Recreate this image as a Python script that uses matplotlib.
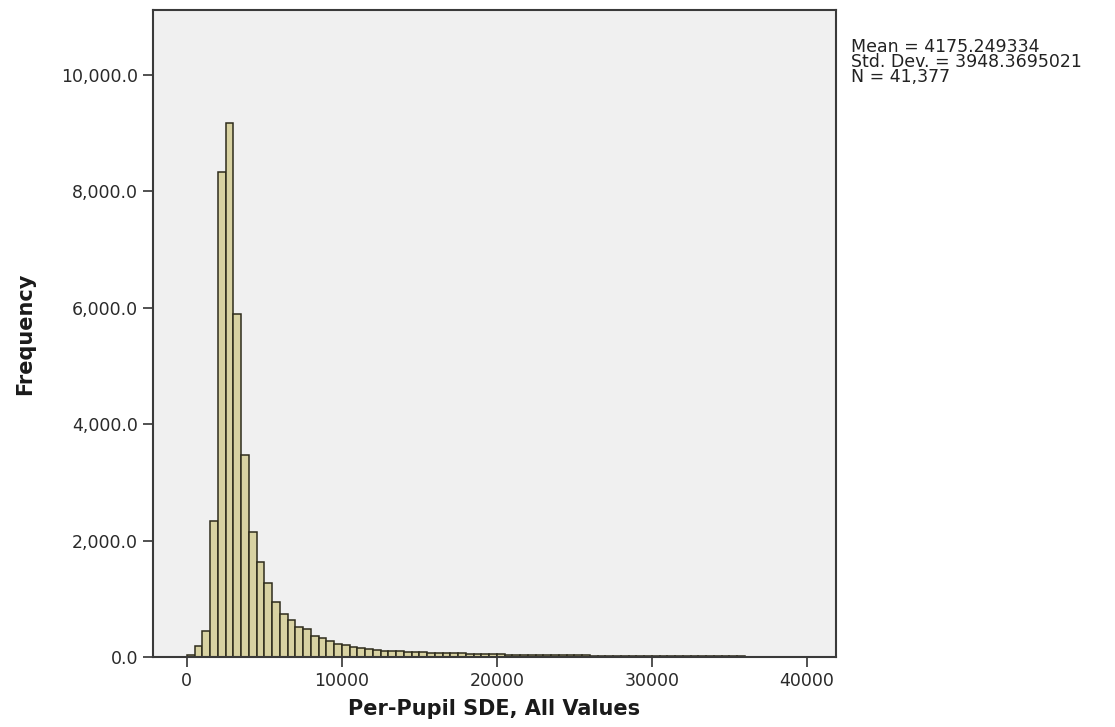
import matplotlib.pyplot as plt
import numpy as np
from matplotlib.ticker import FuncFormatter

# histogram bins of width 500, starting at 0
bin_width = 500
counts = [40, 190, 440, 2335, 8335, 9175, 5893, 3470, 2146, 1630,
          1267, 945, 735, 640, 515, 475, 360, 318, 270, 225,
          200, 177, 148, 130, 117, 110, 102, 95, 90, 85,
          80, 76, 72, 68, 65, 62, 58, 55, 50, 46,
          44, 42, 40, 38, 36, 34, 33, 32, 30, 29,
          28, 26, 25, 24, 23, 22, 21, 20, 19, 18,
          17, 16, 16, 15, 14, 12, 10, 9, 14, 16,
          15, 10, 6, 5, 4, 4, 3, 3, 2, 2]
bin_left = [i * bin_width for i in range(len(counts))]

x_ticks = [0, 10000, 20000, 30000, 40000]
y_ticks = [0, 2000, 4000, 6000, 8000, 10000]
stats_text = 'Mean = 4175.249334\nStd. Dev. = 3948.3695021\nN = 41,377'

fig = plt.figure(figsize=(11.15, 7.27), dpi=100)
ax = fig.add_axes([0.137, 0.0963, 0.613, 0.89])
ax.set_facecolor('#f0f0f0')

ax.bar(bin_left, counts, width=bin_width, align='edge',
       color='#d8d2a2', edgecolor='#2e2c1c', linewidth=1.1)

ax.set_xlim(-2200, 41900)
ax.set_ylim(0, 11110)
ax.set_xticks(x_ticks)
ax.set_yticks(y_ticks)
ax.yaxis.set_major_formatter(FuncFormatter(lambda v, p: '{:,.1f}'.format(v)))

for s in ax.spines.values():
    s.set_color('#3a3a3a')
    s.set_linewidth(1.5)
ax.tick_params(direction='out', length=7, width=1.2, color='#333333',
               labelsize=12.5, labelcolor='#2a2a2a')

ax.set_xlabel('Per-Pupil SDE, All Values', fontsize=15, fontweight='bold',
              color='#1a1a1a', labelpad=7)
ax.set_ylabel('Frequency', fontsize=15, fontweight='bold', color='#1a1a1a',
              labelpad=19)

fig.text(0.763, 0.948, stats_text, fontsize=12.5, linespacing=0.8,
         color='#222222', va='top', ha='left')

fig.savefig('out.png', dpi=100, facecolor='white')
